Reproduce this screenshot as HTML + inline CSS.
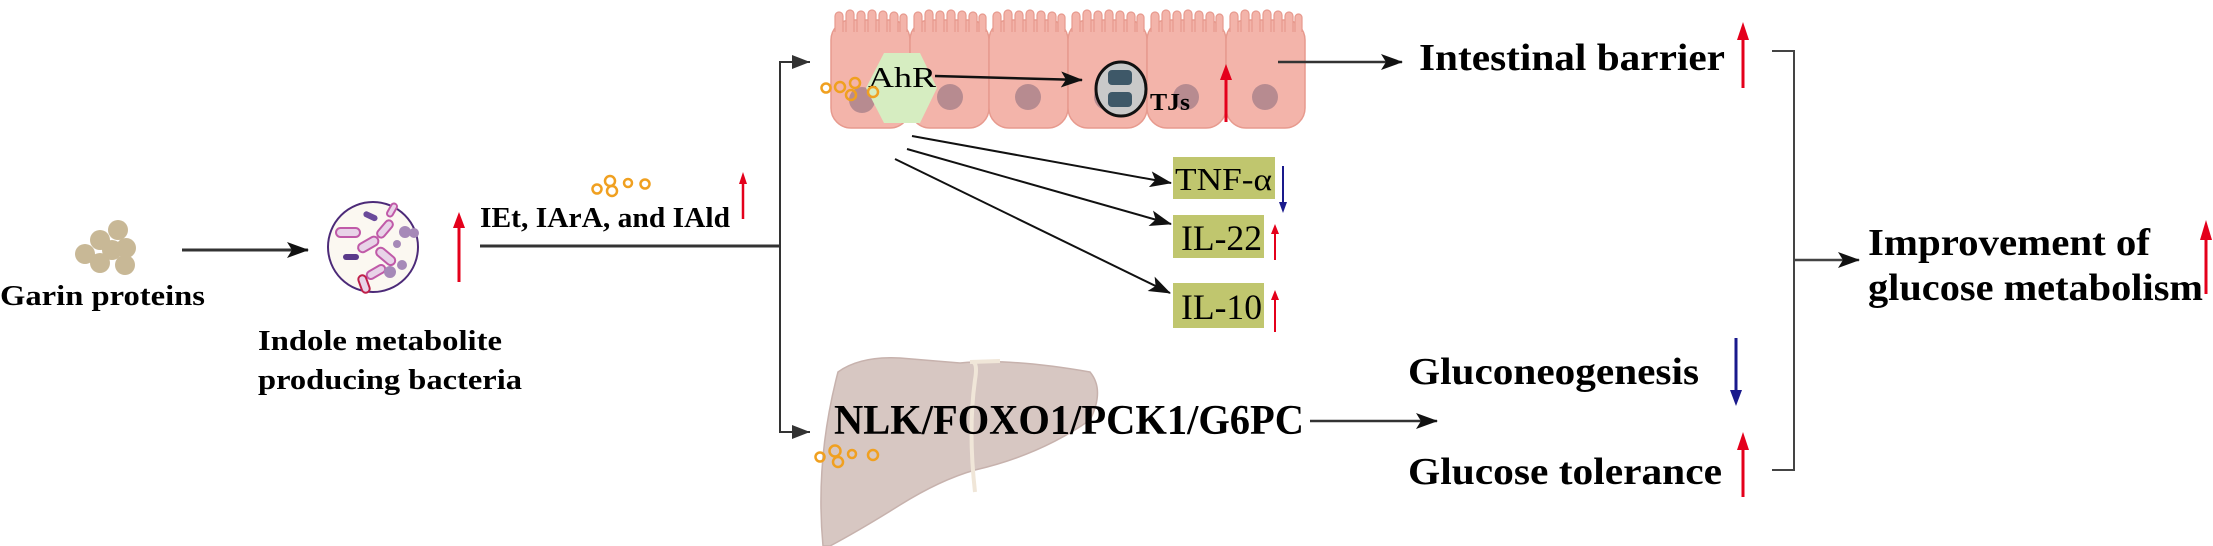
<!DOCTYPE html>
<html><head><meta charset="utf-8"><style>
html,body{margin:0;padding:0;background:#fff}
svg{display:block}
text{font-family:"Liberation Serif",serif}
.b{font-weight:bold}
</style></head><body>
<svg width="2213" height="546" viewBox="0 0 2213 546" xmlns="http://www.w3.org/2000/svg">
<defs>
<marker id="ah2" markerWidth="22" markerHeight="16" refX="21" refY="8" orient="auto" markerUnits="userSpaceOnUse"><path d="M0,0 L22,8 L0,16 L5,8 z" fill="#111"/></marker>
</defs>

<!-- Garin proteins -->
<g fill="#c8b896">
<circle cx="85" cy="254" r="10"/><circle cx="100" cy="240" r="10"/><circle cx="118" cy="230" r="10"/><circle cx="112" cy="250" r="10"/><circle cx="126" cy="248" r="10"/><circle cx="100" cy="263" r="10"/><circle cx="125" cy="265" r="10"/>
</g>
<text x="0" y="305" class="b" font-size="29" textLength="205" lengthAdjust="spacingAndGlyphs">Garin proteins</text>
<line x1="182" y1="250" x2="308" y2="250" stroke="#333" stroke-width="3" marker-end="url(#ah2)"/>

<!-- bacteria -->
<circle cx="373" cy="247" r="45" fill="#fbf8f1" stroke="#4c2a78" stroke-width="2"/>
<g fill="#e8d3e8" stroke="#c05aa8" stroke-width="2">
<rect x="336" y="228" width="24" height="9" rx="4.5"/>
<rect x="357" y="240" width="22" height="9" rx="4.5" transform="rotate(-30 368 244)"/>
<rect x="375" y="225" width="20" height="8" rx="4" transform="rotate(-50 385 229)"/>
<rect x="375" y="252" width="22" height="9" rx="4.5" transform="rotate(40 386 256)"/>
<rect x="366" y="268" width="20" height="8" rx="4" transform="rotate(-30 376 272)"/>
<rect x="355" y="280" width="18" height="8" rx="4" transform="rotate(70 364 284)" stroke="#c0204a"/>
<rect x="385" y="207" width="14" height="6" rx="3" transform="rotate(-60 392 210)"/>
</g>
<g fill="#a689b8">
<rect x="363" y="213" width="15" height="6" rx="3" transform="rotate(25 370 216)" fill="#6a4a9a"/>
<rect x="343" y="254" width="16" height="6" rx="3" fill="#5a3a8a"/>
<circle cx="405" cy="232" r="6"/><circle cx="414" cy="233" r="5"/><circle cx="397" cy="244" r="4"/><circle cx="402" cy="265" r="5"/><circle cx="390" cy="272" r="6"/>
</g>
<!-- red arrow -->
<line x1="459" y1="282" x2="459" y2="225" stroke="#e4001b" stroke-width="3"/>
<path d="M453,228 L459,212 L465,228 z" fill="#e4001b"/>
<text x="258" y="350" class="b" font-size="29" textLength="244" lengthAdjust="spacingAndGlyphs">Indole metabolite</text>
<text x="258" y="389" class="b" font-size="29" textLength="264" lengthAdjust="spacingAndGlyphs">producing bacteria</text>

<!-- metabolites -->
<g fill="none" stroke="#f0a020" stroke-width="2.5">
<circle cx="597" cy="189" r="4.5"/><circle cx="610" cy="181" r="5"/><circle cx="612" cy="191" r="5"/><circle cx="628" cy="183" r="4"/><circle cx="645" cy="184" r="4.5"/>
</g>
<text x="480" y="227" class="b" font-size="29" textLength="250" lengthAdjust="spacingAndGlyphs">IEt, IArA, and IAld</text>
<line x1="743" y1="219" x2="743" y2="182" stroke="#e4001b" stroke-width="2.5"/>
<path d="M739,184 L743,172 L747,184 z" fill="#e4001b"/>
<line x1="480" y1="246" x2="780" y2="246" stroke="#333" stroke-width="3"/>
<polyline points="810,62 780,62 780,432 810,432" fill="none" stroke="#333" stroke-width="2"/>
<path d="M792,55 L810,62 L792,69 z" fill="#333"/>
<path d="M792,425 L810,432 L792,439 z" fill="#333"/>

<!-- intestinal cells -->
<g fill="#f3b4aa" stroke="#e79a8e" stroke-width="1.5">
<rect x="831" y="20" width="79" height="108" rx="20"/>
<rect x="910" y="20" width="79" height="108" rx="20"/>
<rect x="989" y="20" width="79" height="108" rx="20"/>
<rect x="1068" y="20" width="79" height="108" rx="20"/>
<rect x="1147" y="20" width="79" height="108" rx="20"/>
<rect x="1226" y="20" width="79" height="108" rx="20"/>
</g>
<g fill="#f3b4aa" stroke="#e79a8e" stroke-width="1.2">
<g id="vil">
<rect x="835" y="12" width="8" height="34" rx="4"/><rect x="846" y="10" width="8" height="36" rx="4"/><rect x="857" y="11" width="8" height="35" rx="4"/><rect x="868" y="10" width="8" height="36" rx="4"/><rect x="879" y="11" width="8" height="35" rx="4"/><rect x="890" y="12" width="8" height="34" rx="4"/><rect x="900" y="14" width="7" height="32" rx="3.5"/>
</g>
<use href="#vil" x="79"/><use href="#vil" x="158"/><use href="#vil" x="237"/><use href="#vil" x="316"/><use href="#vil" x="395"/>
</g>
<g fill="#f3b4aa">
<rect x="833" y="32" width="75" height="20"/><rect x="912" y="32" width="75" height="20"/><rect x="991" y="32" width="75" height="20"/><rect x="1070" y="32" width="75" height="20"/><rect x="1149" y="32" width="75" height="20"/><rect x="1228" y="32" width="75" height="20"/>
</g>
<g fill="#b78b90">
<circle cx="862" cy="100" r="13"/><circle cx="950" cy="97" r="13"/><circle cx="1028" cy="97" r="13"/><circle cx="1107" cy="97" r="13"/><circle cx="1186" cy="97" r="13"/><circle cx="1265" cy="97" r="13"/>
</g>
<polygon points="884,53 920,53 937,88 920,123 884,123 866,88" fill="#d6edc1"/>
<text x="868" y="87" font-size="28" textLength="68" lengthAdjust="spacingAndGlyphs">AhR</text>
<g fill="none" stroke="#f0a020" stroke-width="2.5">
<circle cx="826" cy="88" r="4.5"/><circle cx="840" cy="87" r="5"/><circle cx="855" cy="83" r="5"/><circle cx="851" cy="95" r="5"/><circle cx="873" cy="92" r="5"/>
</g>
<line x1="935" y1="76" x2="1082" y2="80" stroke="#111" stroke-width="2.5" marker-end="url(#ah2)"/>
<ellipse cx="1121" cy="89" rx="25" ry="27" fill="#c9c9c9" stroke="#111" stroke-width="3"/>
<rect x="1108" y="70" width="24" height="15" rx="4" fill="#3e5868"/>
<rect x="1108" y="92" width="24" height="15" rx="4" fill="#3e5868"/>
<text x="1150" y="110" class="b" font-size="24" textLength="40" lengthAdjust="spacingAndGlyphs">TJs</text>
<line x1="1226" y1="122" x2="1226" y2="76" stroke="#e4001b" stroke-width="3"/>
<path d="M1220,80 L1226,64 L1232,80 z" fill="#e4001b"/>
<line x1="1278" y1="62" x2="1402" y2="62" stroke="#333" stroke-width="2.5" marker-end="url(#ah2)"/>

<!-- cytokines -->
<line x1="912" y1="136" x2="1171" y2="183" stroke="#111" stroke-width="2" marker-end="url(#ah2)"/>
<line x1="907" y1="149" x2="1171" y2="224" stroke="#111" stroke-width="2" marker-end="url(#ah2)"/>
<line x1="895" y1="159" x2="1170" y2="293" stroke="#111" stroke-width="2" marker-end="url(#ah2)"/>
<rect x="1173" y="157" width="102" height="42" fill="#c0c66e"/>
<text x="1175" y="190" font-size="32" textLength="97" lengthAdjust="spacingAndGlyphs">TNF-α</text>
<rect x="1173" y="215" width="91" height="43" fill="#c0c66e"/>
<text x="1181" y="250" font-size="36" textLength="81" lengthAdjust="spacingAndGlyphs">IL-22</text>
<rect x="1173" y="283" width="91" height="45" fill="#c0c66e"/>
<text x="1181" y="319" font-size="36" textLength="81" lengthAdjust="spacingAndGlyphs">IL-10</text>
<line x1="1283" y1="166" x2="1283" y2="204" stroke="#1a1a8c" stroke-width="2"/>
<path d="M1279,202 L1283,213 L1287,202 z" fill="#1a1a8c"/>
<line x1="1275" y1="260" x2="1275" y2="232" stroke="#e4001b" stroke-width="2"/>
<path d="M1271,234 L1275,224 L1279,234 z" fill="#e4001b"/>
<line x1="1275" y1="332" x2="1275" y2="298" stroke="#e4001b" stroke-width="2"/>
<path d="M1271,300 L1275,290 L1279,300 z" fill="#e4001b"/>

<!-- liver -->
<path d="M838,372 Q860,356 900,358 L960,363 Q1010,358 1090,372 Q1105,390 1090,420 Q1040,455 975,470 Q940,480 900,505 Q860,530 830,546 L823,546 Q815,460 838,372 z" fill="#d7c7c2" stroke="#c7b2ad" stroke-width="1.5"/>
<path d="M972,362 Q978,362 975,380 Q968,430 975,492" fill="none" stroke="#f0e6d8" stroke-width="4"/>
<path d="M970,362 L1000,361" stroke="#f0e6d8" stroke-width="4"/>
<text x="834" y="434" class="b" font-size="42" textLength="470" lengthAdjust="spacingAndGlyphs">NLK/FOXO1/PCK1/G6PC</text>
<g fill="none" stroke="#f0a020" stroke-width="2.5">
<circle cx="820" cy="457" r="4.5"/><circle cx="835" cy="451" r="5.5"/><circle cx="838" cy="462" r="5"/><circle cx="852" cy="454" r="4"/><circle cx="873" cy="455" r="5"/>
</g>
<line x1="1310" y1="421" x2="1437" y2="421" stroke="#333" stroke-width="2.5" marker-end="url(#ah2)"/>

<!-- right -->
<text x="1419" y="70" class="b" font-size="38" textLength="306" lengthAdjust="spacingAndGlyphs">Intestinal barrier</text>
<line x1="1743" y1="88" x2="1743" y2="36" stroke="#e4001b" stroke-width="3"/>
<path d="M1737,40 L1743,22 L1749,40 z" fill="#e4001b"/>
<text x="1408" y="384" class="b" font-size="38" textLength="291" lengthAdjust="spacingAndGlyphs">Gluconeogenesis</text>
<line x1="1736" y1="338" x2="1736" y2="392" stroke="#1a1a8c" stroke-width="3"/>
<path d="M1730,390 L1736,406 L1742,390 z" fill="#1a1a8c"/>
<text x="1408" y="484" class="b" font-size="38" textLength="314" lengthAdjust="spacingAndGlyphs">Glucose tolerance</text>
<line x1="1743" y1="497" x2="1743" y2="446" stroke="#e4001b" stroke-width="3"/>
<path d="M1737,450 L1743,432 L1749,450 z" fill="#e4001b"/>
<polyline points="1772,51 1794,51 1794,470 1772,470" fill="none" stroke="#444" stroke-width="2"/>
<line x1="1794" y1="260" x2="1859" y2="260" stroke="#444" stroke-width="2.5" marker-end="url(#ah2)"/>
<text x="1868" y="255" class="b" font-size="38" textLength="282" lengthAdjust="spacingAndGlyphs">Improvement of</text>
<text x="1868" y="300" class="b" font-size="38" textLength="335" lengthAdjust="spacingAndGlyphs">glucose metabolism</text>
<line x1="2206" y1="294" x2="2206" y2="236" stroke="#e4001b" stroke-width="3"/>
<path d="M2200,240 L2206,220 L2212,240 z" fill="#e4001b"/>
</svg>
</body></html>
